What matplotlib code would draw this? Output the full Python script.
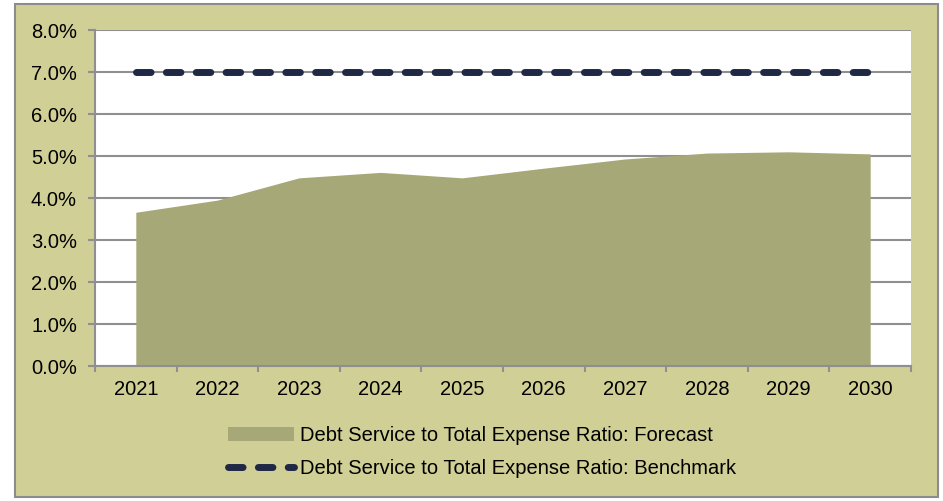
import matplotlib
matplotlib.use("Agg")
import matplotlib.pyplot as plt
from matplotlib.patches import Rectangle
from matplotlib.ticker import FuncFormatter, FixedLocator

years = ["2021", "2022", "2023", "2024", "2025", "2026", "2027", "2028", "2029", "2030"]
forecast = [3.66, 3.95, 4.48, 4.61, 4.48, 4.71, 4.93, 5.07, 5.10, 5.05]
benchmark = [7.0] * 10
forecast_label = "Debt Service to Total Expense Ratio: Forecast"
benchmark_label = "Debt Service to Total Expense Ratio: Benchmark"

plt.rcParams['font.family'] = ['Liberation Sans', 'DejaVu Sans']
FS = 14.5

W, H = 943, 501
fig = plt.figure(figsize=(W / 100, H / 100), dpi=100)
fig.patch.set_facecolor('white')

bg = '#d0cf96'
fig.patches.append(Rectangle((15 / W, 1 - 497 / H), (938 - 15) / W, (497 - 4) / H,
                             transform=fig.transFigure, facecolor=bg,
                             edgecolor='#8c8c8c', linewidth=1.5, zorder=-5))

ax = fig.add_axes([95 / W, 1 - 366 / H, (911 - 95) / W, (366 - 30) / H])
ax.set_zorder(2)
ax.set_facecolor('white')

x = list(range(len(years)))
ax.fill_between(x, 0, forecast, color='#a6a878', linewidth=0, zorder=2,
                label=forecast_label)
ax.plot(x, benchmark, color='#1f2845', linewidth=5, dashes=(2.1, 2.2),
        dash_capstyle='round', zorder=3, label=benchmark_label)

ax.set_xlim(-0.5, len(years) - 0.5)
ax.set_ylim(0, 8)
ax.yaxis.set_major_locator(FixedLocator([i for i in range(9)]))
ax.yaxis.set_major_formatter(FuncFormatter(lambda v, p: f"{v:.1f}%"))
ax.grid(axis='y', color='#8f8f8f', linewidth=1.5, zorder=1)
ax.set_axisbelow(True)

ax.set_xticks(x)
ax.set_xticklabels(years)
ax.set_xticks([i - 0.5 for i in range(len(years) + 1)], minor=True)
ax.tick_params(axis='x', which='major', length=0, pad=10, labelsize=FS)
ax.tick_params(axis='x', which='minor', length=4, width=1.5, color='#8f8f8f')
ax.tick_params(axis='y', length=5, width=1.5, color='#8f8f8f', pad=8, labelsize=FS)

for s in ['top', 'right']:
    ax.spines[s].set_visible(False)
for s in ['left', 'bottom']:
    ax.spines[s].set_color('#8f8f8f')
    ax.spines[s].set_linewidth(1.5)

fig.legend(loc='center', bbox_to_anchor=(482 / W, 1 - 452 / H), frameon=False,
           fontsize=FS, handlelength=3.3, handletextpad=0.3, labelspacing=0.7,
           borderpad=0)

fig.savefig('out.png', dpi=100, facecolor=fig.get_facecolor())
